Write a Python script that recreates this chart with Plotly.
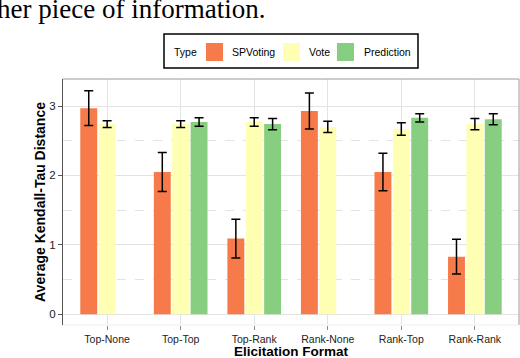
import plotly.graph_objects as go

formats = ['Top-None', 'Top-Top', 'Top-Rank', 'Rank-None', 'Rank-Top', 'Rank-Rank']

spvoting = [2.97, 2.05, 1.09, 2.93, 2.05, 0.83]
spvoting_err = [0.25, 0.28, 0.28, 0.26, 0.27, 0.25]
vote = [2.74, 2.74, 2.77, 2.70, 2.67, 2.74]
vote_err = [0.05, 0.05, 0.06, 0.08, 0.09, 0.08]
prediction = [None, 2.77, 2.74, None, 2.83, 2.81]
prediction_err = [None, 0.06, 0.08, None, 0.06, 0.08]

colors = {'SPVoting': '#F77B4A', 'Vote': '#FFFFB3', 'Prediction': '#88CE80'}
series = [('SPVoting', spvoting, spvoting_err),
          ('Vote', vote, vote_err),
          ('Prediction', prediction, prediction_err)]

# plot area in pixels (used to place the legend box drawn by hand)
L, R, T, B = 63, 519, 79, 325
W, H = R - L, B - T

def px(x):
    return (x - L) / W

def py(y):
    return (B - y) / H

fig = go.Figure()
for name, vals, errs in series:
    fig.add_trace(go.Bar(
        x=formats, y=vals, name=name,
        marker=dict(color=colors[name], line=dict(width=0)),
        error_y=dict(type='data', array=errs, color='black', thickness=1.5, width=4.5),
        showlegend=False,
    ))

fig.update_layout(
    width=520, height=358,
    margin=dict(l=L, r=520 - R, t=T, b=358 - B, autoexpand=False),
    paper_bgcolor='white', plot_bgcolor='white',
    font=dict(family='Liberation Sans, Arial, sans-serif', color='black', size=10),
    barmode='group', bargap=0.25, bargroupgap=0.08,
)

fig.update_xaxes(
    range=[-0.6, 5.6], showgrid=True, gridcolor='#E3E3E3', gridwidth=1,
    ticks='outside', ticklen=4, tickcolor='#8a8a8a',
    tickfont=dict(size=10.5, color='#222222'),
    showline=False, zeroline=False, automargin=False,
)
fig.update_yaxes(
    range=[-0.155, 3.39], tickvals=[0, 1, 2, 3], showgrid=True,
    gridcolor='#E3E3E3', gridwidth=1,
    minor=dict(tickvals=[0.5, 1.5, 2.5], showgrid=True, gridcolor='#E3E3E3', griddash='dash'),
    ticks='outside', ticklen=4, tickcolor='#555555',
    tickfont=dict(size=11.5, color='#222222'),
    title=dict(text='<b>Average Kendall-Tau Distance</b>', font=dict(size=14), standoff=0),
    showline=True, linecolor='#555555', linewidth=1, zeroline=False, automargin=False,
)

# x axis title, placed by hand to sit at the very bottom like the original
fig.add_annotation(text='<b>Elicitation Format</b>', xref='paper', yref='paper',
                   x=px(291), y=py(351), xanchor='center', yanchor='middle', showarrow=False,
                   font=dict(size=13.5))

# panel border: top and right grey, bottom faint
fig.add_shape(type='line', xref='paper', yref='paper', x0=0, x1=1, y0=1, y1=1,
              line=dict(color='#999999', width=1))
fig.add_shape(type='line', xref='paper', yref='paper', x0=1, x1=1, y0=0, y1=1,
              line=dict(color='#999999', width=1))
fig.add_shape(type='line', xref='paper', yref='paper', x0=0, x1=1, y0=0, y1=0,
              line=dict(color='#EEEEEE', width=1))

# legend box
fig.add_shape(type='rect', xref='paper', yref='paper', x0=px(164), x1=px(418),
              y0=py(68), y1=py(34), line=dict(color='black', width=1.5),
              fillcolor='white')
fig.add_annotation(text='Type', xref='paper', yref='paper', x=px(172), y=py(52),
                   xanchor='left', yanchor='middle', showarrow=False, font=dict(size=10.5))
legend_items = [('SPVoting', 206, 230), ('Vote', 283, 307), ('Prediction', 337, 362)]
for name, sx, tx in legend_items:
    fig.add_shape(type='rect', xref='paper', yref='paper', x0=px(sx), x1=px(sx + 17),
                  y0=py(61), y1=py(43), line=dict(width=0), fillcolor=colors[name])
    fig.add_annotation(text=name, xref='paper', yref='paper', x=px(tx), y=py(52),
                       xanchor='left', yanchor='middle', showarrow=False, font=dict(size=10.5))

# clipped text of the page above the figure
fig.add_annotation(text='her piece of information.', xref='paper', yref='paper',
                   x=px(267), y=py(9), xanchor='right', yanchor='middle', showarrow=False,
                   font=dict(family='Liberation Serif, Times New Roman, serif', size=27, color='black'))

# the page body has a default 8px margin, drop it so the figure fills the window
fig.write_html('out.html', config={'displayModeBar': False},
               post_script="document.body.style.margin='0';")
